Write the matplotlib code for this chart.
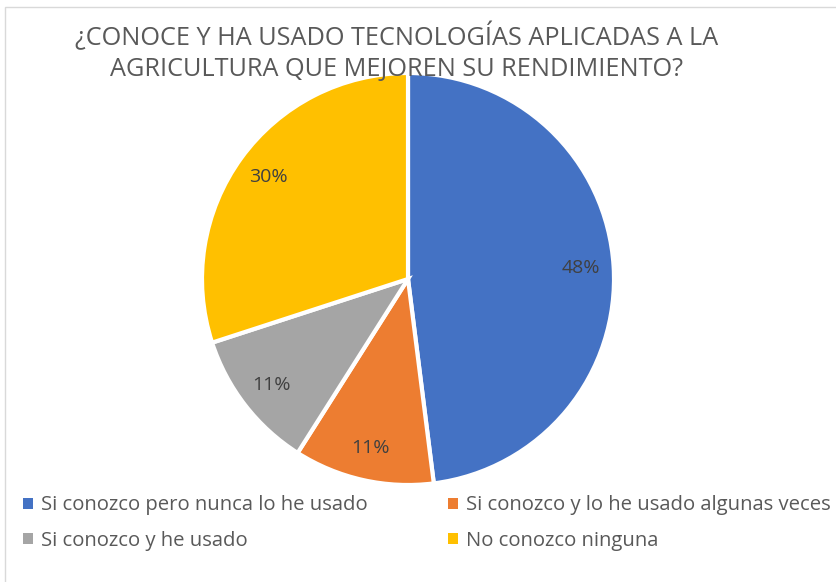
import matplotlib
matplotlib.use('agg')
import matplotlib.pyplot as plt
from matplotlib.patches import Rectangle

plt.rcParams['font.family'] = ['Open Sans', 'DejaVu Sans']

title = '¿CONOCE Y HA USADO TECNOLOGÍAS APLICADAS A LA\nAGRICULTURA QUE MEJOREN SU RENDIMIENTO?'
categories = ['Si conozco pero nunca lo he usado',
              'Si conozco y lo he usado algunas veces',
              'Si conozco y he usado',
              'No conozco ninguna']
values = [48, 11, 11, 30]
colors = ['#4472C4', '#ED7D31', '#A5A5A5', '#FFC000']

fig = plt.figure(figsize=(8.36, 5.82), dpi=100)
# chart frame
fig.add_artist(Rectangle((0.006, -0.01), 1.0, 0.998, transform=fig.transFigure,
                         fill=False, edgecolor='#D9D9D9', linewidth=1))

ax = fig.add_axes([(408 - 206) / 836, 1 - (279 + 206) / 582, 412 / 836, 412 / 582])
wedges, _, autotexts = ax.pie(values, colors=colors, startangle=90, counterclock=False,
                              autopct='%1.0f%%', pctdistance=0.84,
                              wedgeprops=dict(edgecolor='white', linewidth=3),
                              textprops=dict(color='#404040', fontsize=14))
ax.set_xlim(-1, 1)
ax.set_ylim(-1, 1)
ax.set_aspect('equal')

fig.text(397 / 836, 1 - 52 / 582, title, ha='center', va='center', fontsize=18.2,
         color='#595959', linespacing=1.35)

# legend is filled row by row in the original
order = [0, 2, 1, 3]
leg = fig.legend([wedges[i] for i in order], [categories[i] for i in order],
                 loc='upper left', bbox_to_anchor=(0.006, 1 - 477 / 582),
                 ncol=2, frameon=False, fontsize=14.6, handlelength=0.46, handleheight=0.46,
                 handletextpad=0.4, columnspacing=4.0, labelspacing=0.78,
                 labelcolor='#595959')
for h in leg.legend_handles:
    h.set_linewidth(0)

fig.savefig('out.png', dpi=100)
